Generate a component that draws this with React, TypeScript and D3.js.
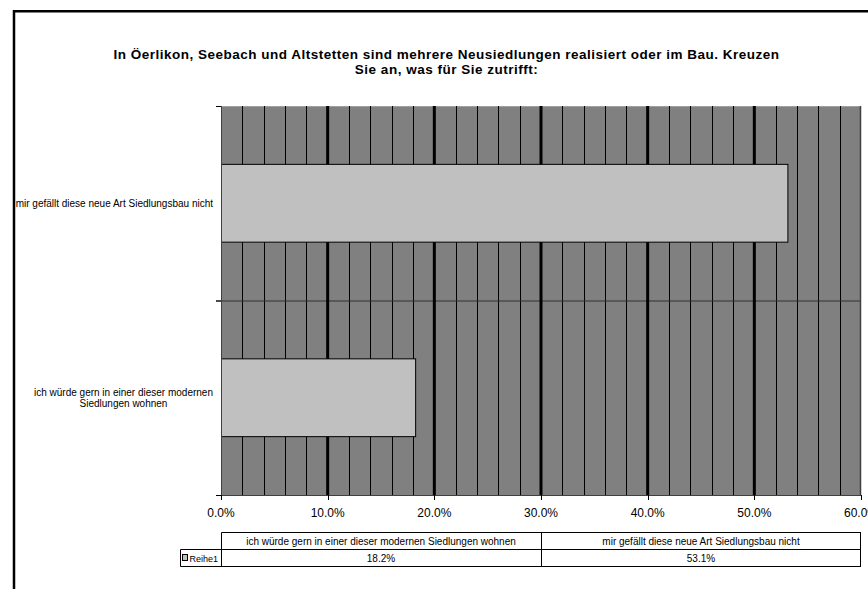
import React, { useEffect, useRef } from "react";
import * as d3 from "d3";

const titleLines = [
  "In Öerlikon, Seebach und Altstetten sind mehrere Neusiedlungen realisiert oder im Bau. Kreuzen",
  "Sie an, was für Sie zutrifft:",
];
// categories top to bottom as drawn
const categories = [
  "mir gefällt diese neue Art Siedlungsbau nicht",
  "ich würde gern in einer dieser modernen Siedlungen wohnen",
];
const categoryLabelLines = [
  ["mir gefällt diese neue Art Siedlungsbau nicht"],
  ["ich würde gern in einer dieser modernen", "Siedlungen wohnen"],
];
const values = [0.531, 0.182];
// table order (as in the data table, left to right)
const tableCategories = [
  "ich würde gern in einer dieser modernen Siedlungen wohnen",
  "mir gefällt diese neue Art Siedlungsbau nicht",
];
const tableValues = [0.182, 0.531];
const seriesName = "Reihe1";
const xTicks = [0, 0.1, 0.2, 0.3, 0.4, 0.5, 0.6];
const xMax = 0.6;

const W = 868;
const H = 589;
const FONT = "'Liberation Sans', Arial, Helvetica, sans-serif";

export default function App() {
  const ref = useRef<SVGSVGElement>(null);

  useEffect(() => {
    const svg = d3.select(ref.current);
    svg.selectAll("*").remove();

    const left = 221, right = 861, top = 106, bottom = 495;
    const x = d3.scaleLinear().domain([0, xMax]).range([left, right]);
    const y = d3.scaleBand().domain(categories).range([top, bottom]).padding(0);

    // outer frame
    svg.append("rect").attr("x", 14).attr("y", 11.25).attr("width", 1000).attr("height", 1000)
      .attr("fill", "white").attr("stroke", "black").attr("stroke-width", 2.5);

    // title
    const title = svg.append("text").attr("text-anchor", "middle")
      .attr("font-family", FONT).attr("font-weight", "bold").attr("font-size", 13.5)
      .attr("letter-spacing", 0.5).attr("fill", "black");
    titleLines.forEach((l, i) => {
      title.append("tspan").attr("x", 446.5).attr("y", 59 + i * 15).text(l);
    });

    // plot background
    svg.append("rect").attr("x", left).attr("y", top).attr("width", right - left).attr("height", bottom - top)
      .attr("fill", "#808080");
    svg.append("line").attr("x1", left).attr("x2", right).attr("y1", top + 0.5).attr("y2", top + 0.5)
      .attr("stroke", "#a0a0a0").attr("stroke-width", 1);

    // minor grid every 2%
    const minor = d3.range(0, 31).map((i) => i * 0.02).filter((v) => Math.round(v * 100) % 10 !== 0);
    svg.append("g").selectAll("line").data(minor).join("line")
      .attr("x1", (d) => Math.round(x(d)) + 0.5).attr("x2", (d) => Math.round(x(d)) + 0.5)
      .attr("y1", top).attr("y2", bottom)
      .attr("stroke", "#000").attr("stroke-width", 1);

    // category boundary line
    svg.append("line").attr("x1", left - 5).attr("x2", right)
      .attr("y1", (y(categories[1]) as number) + 0.5).attr("y2", (y(categories[1]) as number) + 0.5)
      .attr("stroke", "#303030").attr("stroke-width", 1);

    // major grid every 10%
    svg.append("g").selectAll("line").data(xTicks.slice(1, -1)).join("line")
      .attr("x1", (d) => x(d)).attr("x2", (d) => x(d))
      .attr("y1", top).attr("y2", bottom)
      .attr("stroke", "#000").attr("stroke-width", 3);
    svg.append("line").attr("x1", right - 0.5).attr("x2", right - 0.5).attr("y1", top).attr("y2", bottom)
      .attr("stroke", "#404040").attr("stroke-width", 1.5);

    // bars
    const bh = y.bandwidth() * 0.4;
    svg.append("g").selectAll("rect").data(categories).join("rect")
      .attr("x", x(0) + 0.5)
      .attr("y", (d) => (y(d) as number) + y.bandwidth() / 2 - bh / 2)
      .attr("width", (d, i) => x(values[i]) - x(0))
      .attr("height", bh)
      .attr("fill", "#c0c0c0").attr("stroke", "#000").attr("stroke-width", 1);

    // y axis
    svg.append("line").attr("x1", left + 0.5).attr("x2", left + 0.5).attr("y1", top).attr("y2", bottom)
      .attr("stroke", "#404040").attr("stroke-width", 1);
    const yTickPos = [top, y(categories[1]) as number, bottom];
    svg.append("g").selectAll("line").data(yTickPos).join("line")
      .attr("x1", left - 5).attr("x2", left).attr("y1", (d) => d + 0.5).attr("y2", (d) => d + 0.5)
      .attr("stroke", "#000").attr("stroke-width", 1);

    // x axis
    svg.append("line").attr("x1", left).attr("x2", right).attr("y1", bottom + 0.5).attr("y2", bottom + 0.5)
      .attr("stroke", "#404040").attr("stroke-width", 1);
    svg.append("g").selectAll("line").data(xTicks).join("line")
      .attr("x1", (d) => Math.round(x(d)) + 0.5).attr("x2", (d) => Math.round(x(d)) + 0.5)
      .attr("y1", bottom).attr("y2", bottom + 5)
      .attr("stroke", "#000").attr("stroke-width", 1);
    svg.append("g").selectAll("text").data(xTicks).join("text")
      .attr("x", (d) => x(d)).attr("y", 517).attr("text-anchor", "middle")
      .attr("font-family", FONT).attr("font-size", 12).attr("fill", "#000")
      .text((d) => d3.format(".1%")(d));

    // category labels
    categoryLabelLines.forEach((lines, i) => {
      const cy = (y(categories[i]) as number) + y.bandwidth() / 2;
      const g = svg.append("g");
      const lh = 11.5;
      const texts = lines.map((l, j) =>
        g.append("text").attr("font-family", FONT).attr("font-size", 10).attr("fill", "#000")
          .attr("text-anchor", "middle")
          .attr("y", cy + 3.5 + (j - (lines.length - 1) / 2) * lh).text(l)
      );
      const widths = texts.map((t) => (t.node() as SVGTextElement).getComputedTextLength());
      const maxW = Math.max(...widths);
      texts.forEach((t) => t.attr("x", 213 - maxW / 2));
    });

    // data table
    const t0 = 532.5, t1 = 549.5, t2 = 566.5;
    const tx = d3.scaleBand().domain(tableCategories).range([left, right]);
    // series label first, to measure the row header cell
    const sname = svg.append("text").attr("x", 218).attr("y", 561.5).attr("text-anchor", "end")
      .attr("font-family", FONT).attr("font-size", 9).attr("fill", "#000").text(seriesName);
    const sw = (sname.node() as SVGTextElement).getComputedTextLength();
    const keyX = 218 - sw - 7;
    const cellLeft = Math.round(keyX - 2) + 0.5;
    svg.append("rect").attr("x", Math.round(keyX) + 0.5).attr("y", 554.5).attr("width", 5).attr("height", 6)
      .attr("fill", "#c0c0c0").attr("stroke", "#000").attr("stroke-width", 1);

    const tg = svg.append("g").attr("stroke", "#000").attr("stroke-width", 1);
    tg.append("line").attr("x1", left + 0.5).attr("x2", right).attr("y1", t0).attr("y2", t0);
    tg.append("line").attr("x1", cellLeft).attr("x2", right).attr("y1", t1).attr("y2", t1);
    tg.append("line").attr("x1", cellLeft).attr("x2", right).attr("y1", t2).attr("y2", t2);
    tg.append("line").attr("x1", cellLeft).attr("x2", cellLeft).attr("y1", t1).attr("y2", t2);
    [left + 0.5, (tx(tableCategories[1]) as number) + 0.5, right - 0.5].forEach((vx) => {
      tg.append("line").attr("x1", vx).attr("x2", vx).attr("y1", t0).attr("y2", t2);
    });
    svg.append("g").selectAll("text").data(tableCategories).join("text")
      .attr("x", (d) => (tx(d) as number) + tx.bandwidth() / 2).attr("y", 544.5)
      .attr("text-anchor", "middle").attr("font-family", FONT).attr("font-size", 10).attr("fill", "#000")
      .text((d) => d);
    svg.append("g").selectAll("text").data(tableValues).join("text")
      .attr("x", (d, i) => (tx(tableCategories[i]) as number) + tx.bandwidth() / 2).attr("y", 561.5)
      .attr("text-anchor", "middle").attr("font-family", FONT).attr("font-size", 10).attr("fill", "#000")
      .text((d) => d3.format(".1%")(d));
  }, []);

  return (
    <svg ref={ref} width={W} height={H} viewBox={`0 0 ${W} ${H}`}
      style={{ position: "absolute", left: 0, top: 0, background: "white" }} />
  );
}
